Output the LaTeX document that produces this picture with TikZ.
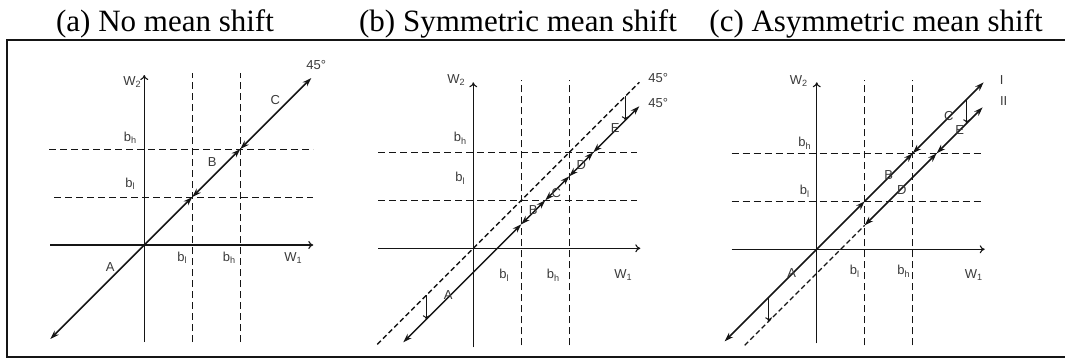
\documentclass[tikz,border=0pt]{standalone}
\usepackage{fontspec}
\setmainfont{Liberation Serif}
\newfontfamily\lblfont{Liberation Sans}
\usetikzlibrary{arrows.meta}
\definecolor{msInk}{HTML}{151515}
\definecolor{msText}{HTML}{3A3A3A}
\tikzset{
  msAxis/.style={draw=msInk,line width=1.1pt,-{To[length=5pt,width=8pt]}},
  msGrid/.style={draw=msInk,line width=1pt,dash pattern=on 7pt off 4pt},
  msPath/.style={draw=msInk,line width=1.5pt,
    {Stealth[length=9pt,width=6pt]}-{Stealth[length=9pt,width=6pt]}},
  msPathUp/.style={draw=msInk,line width=1.5pt,-{Stealth[length=9pt,width=6pt]}},
  msGhost/.style={draw=msInk,line width=1.3pt,dash pattern=on 5pt off 3pt},
  msShift/.style={draw=msInk,line width=1pt,-{To[length=4pt,width=7pt]}},
  msLabel/.style={text=msText,font=\fontsize{13}{15}\selectfont\lblfont,inner sep=0pt}
}

\begin{document}
\begin{tikzpicture}[x=1pt,y=1pt,
  title/.style={font=\fontsize{31}{36}\selectfont,anchor=base,inner sep=0pt},
  frame/.style={draw=msInk,line width=1.3pt}]
\useasboundingbox (0,0) rectangle (1065,-359);
\node[title] (ta) at (165,-31) {(a) No mean shift};
\node[title] (tb) at (518,-31) {(b) Symmetric mean shift};
\node[title] (tc) at (876,-31) {(c) Asymmetric mean shift};
\coordinate (frTL) at (7,-40);
\coordinate (frTR) at (1065,-40);
\coordinate (frBL) at (7,-357);
\coordinate (frBR) at (1065,-357);
\draw[frame] (frTR) -- (frTL) -- (frBL) -- (frBR);

% (a) no mean shift
\begin{scope}[shift={(144.3,-245)}]
\coordinate (a-xl) at (-94,0);   \coordinate (a-xr) at (169,0);
\coordinate (a-yb) at (0,-97);   \coordinate (a-yt) at (0,170);
\coordinate (a-v1b) at (48,-97); \coordinate (a-v1t) at (48,172);
\coordinate (a-v2b) at (96,-97); \coordinate (a-v2t) at (96,172);
\coordinate (a-h1l) at (-90,48); \coordinate (a-h1r) at (169,48);
\coordinate (a-h2l) at (-95,96); \coordinate (a-h2r) at (169,96);
\coordinate (a-p0) at (-94,-94); \coordinate (a-q1) at (48,48);
\coordinate (a-q2) at (96,96);   \coordinate (a-p1) at (167,167);
\draw[msGrid] (a-v1b) -- (a-v1t);
\draw[msGrid] (a-v2b) -- (a-v2t);
\draw[msGrid] (a-h1l) -- (a-h1r);
\draw[msGrid] (a-h2l) -- (a-h2r);
\draw[msAxis] (a-xl) -- (a-xr);
\draw[msAxis] (a-yb) -- (a-yt);
\draw[msPath] (a-p0) -- (a-q1);
\draw[msPath] (a-q1) -- (a-q2);
\draw[msPath] (a-q2) -- (a-p1);
\node[msLabel] (a-w2) at (-12,163) {W\textsubscript{2}};
\node[msLabel] (a-bh) at (-14,107) {b\textsubscript{h}};
\node[msLabel] (a-bl) at (-14,61) {b\textsubscript{l}};
\node[msLabel] (a-blx) at (38,-13) {b\textsubscript{l}};
\node[msLabel] (a-bhx) at (85,-13) {b\textsubscript{h}};
\node[msLabel] (a-w1) at (149,-13) {W\textsubscript{1}};
\node[msLabel] (a-A) at (-34,-22) {A};
\node[msLabel] (a-B) at (68,83) {B};
\node[msLabel] (a-C) at (131,145) {C};
\node[msLabel] (a-deg) at (172,180) {45°};
\end{scope}

% (b) symmetric mean shift
\begin{scope}[shift={(473.3,-248.3)}]
\coordinate (b-xl) at (-95,0);   \coordinate (b-xr) at (167,0);
\coordinate (b-yb) at (0,-99);   \coordinate (b-yt) at (0,166);
\coordinate (b-v1b) at (48,-97); \coordinate (b-v1t) at (48,168);
\coordinate (b-v2b) at (96,-97); \coordinate (b-v2t) at (96,168);
\coordinate (b-h1l) at (-95,48); \coordinate (b-h1r) at (164,48);
\coordinate (b-h2l) at (-95,96); \coordinate (b-h2r) at (164,96);
\coordinate (b-g0) at (-96,-96); \coordinate (b-g1) at (166,166);
\coordinate (b-p0) at (-70,-94); \coordinate (b-q1) at (48,24);
\coordinate (b-q2) at (72,48);   \coordinate (b-q3) at (96,72);
\coordinate (b-q4) at (120,96);  \coordinate (b-p1) at (166,142);
\coordinate (b-s1a) at (-47,-47); \coordinate (b-s1b) at (-47,-71);
\coordinate (b-s2a) at (152,152); \coordinate (b-s2b) at (152,128);
\draw[msGrid] (b-v1b) -- (b-v1t);
\draw[msGrid] (b-v2b) -- (b-v2t);
\draw[msGrid] (b-h1l) -- (b-h1r);
\draw[msGrid] (b-h2l) -- (b-h2r);
\draw[msAxis] (b-xl) -- (b-xr);
\draw[msAxis] (b-yb) -- (b-yt);
\draw[msGhost] (b-g0) -- (b-g1);
\draw[msPath] (b-p0) -- (b-q1);
\draw[msPath] (b-q1) -- (b-q2);
\draw[msPath] (b-q2) -- (b-q3);
\draw[msPath] (b-q3) -- (b-q4);
\draw[msPath] (b-q4) -- (b-p1);
\draw[msShift] (b-s1a) -- (b-s1b);
\draw[msShift] (b-s2a) -- (b-s2b);
\node[msLabel] (b-w2) at (-17,168) {W\textsubscript{2}};
\node[msLabel] (b-bh) at (-13,110) {b\textsubscript{h}};
\node[msLabel] (b-bl) at (-13,70) {b\textsubscript{l}};
\node[msLabel] (b-blx) at (31,-27) {b\textsubscript{l}};
\node[msLabel] (b-bhx) at (80,-27) {b\textsubscript{h}};
\node[msLabel] (b-w1) at (150,-27) {W\textsubscript{1}};
\node[msLabel] (b-A) at (-25,-47) {A};
\node[msLabel] (b-B) at (60,38) {B};
\node[msLabel] (b-C) at (83,55) {C};
\node[msLabel] (b-D) at (108,83) {D};
\node[msLabel] (b-E) at (142,120) {E};
\node[msLabel] (b-deg1) at (185,170) {45°};
\node[msLabel] (b-deg2) at (185,145) {45°};
\end{scope}

% (c) asymmetric mean shift
\begin{scope}[shift={(816.7,-249.3)}]
\coordinate (c-xl) at (-85,0);   \coordinate (c-xr) at (168,0);
\coordinate (c-yb) at (0,-94);   \coordinate (c-yt) at (0,167);
\coordinate (c-v1b) at (48,-96); \coordinate (c-v1t) at (48,169);
\coordinate (c-v2b) at (96,-96); \coordinate (c-v2t) at (96,169);
\coordinate (c-h1l) at (-85,48); \coordinate (c-h1r) at (165,48);
\coordinate (c-h2l) at (-85,96); \coordinate (c-h2r) at (165,96);
\coordinate (c-p0) at (-92,-92); \coordinate (c-q1) at (48,48);
\coordinate (c-q2) at (96,96);   \coordinate (c-p1) at (167,167);
\coordinate (c-g0) at (-72,-96); \coordinate (c-r1) at (48,24);
\coordinate (c-r2) at (120,96);  \coordinate (c-r3) at (166,142);
\coordinate (c-s1a) at (-48,-48); \coordinate (c-s1b) at (-48,-72);
\coordinate (c-s2a) at (150,150); \coordinate (c-s2b) at (150,126);
\draw[msGrid] (c-v1b) -- (c-v1t);
\draw[msGrid] (c-v2b) -- (c-v2t);
\draw[msGrid] (c-h1l) -- (c-h1r);
\draw[msGrid] (c-h2l) -- (c-h2r);
\draw[msAxis] (c-xl) -- (c-xr);
\draw[msAxis] (c-yb) -- (c-yt);
\draw[msPath] (c-p0) -- (c-q1);
\draw[msPathUp] (c-q1) -- (c-q2);
\draw[msPath] (c-q2) -- (c-p1);
\draw[msGhost] (c-g0) -- (c-r1);
\draw[msPath] (c-r1) -- (c-r2);
\draw[msPath] (c-r2) -- (c-r3);
\draw[msShift] (c-s1a) -- (c-s1b);
\draw[msShift] (c-s2a) -- (c-s2b);
\node[msLabel] (c-w2) at (-18,168) {W\textsubscript{2}};
\node[msLabel] (c-bh) at (-12,106) {b\textsubscript{h}};
\node[msLabel] (c-bl) at (-12,58) {b\textsubscript{l}};
\node[msLabel] (c-blx) at (38,-22) {b\textsubscript{l}};
\node[msLabel] (c-bhx) at (87,-22) {b\textsubscript{h}};
\node[msLabel] (c-w1) at (157,-26) {W\textsubscript{1}};
\node[msLabel] (c-A) at (-25,-24) {A};
\node[msLabel] (c-B) at (72,74) {B};
\node[msLabel] (c-C) at (132,133) {C};
\node[msLabel] (c-D) at (85,59) {D};
\node[msLabel] (c-E) at (143,119) {E};
\node[msLabel] (c-I) at (185,169) {I};
\node[msLabel] (c-II) at (187,148) {II};
\end{scope}
\end{tikzpicture}
\end{document}
